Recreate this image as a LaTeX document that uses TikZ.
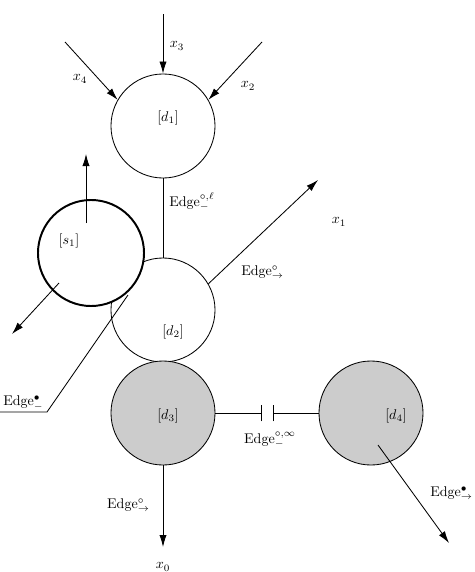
\documentclass[tikz,border=0pt]{standalone}
\usepackage{amsmath}
\usepackage{amssymb}
\usepackage{tikz}
\usetikzlibrary{arrows.meta}

\tikzset{
  dnode/.style={circle, draw, semithick, minimum size=2.6cm, inner sep=0pt},
  snode/.style={circle, draw, line width=1.4pt, fill=white, minimum size=2.65cm, inner sep=0pt},
  dfill/.style={dnode, fill=gray!40},
  arr/.style={semithick, -{Latex[length=3mm,width=1.8mm]}},
}

\begin{document}
\begin{tikzpicture}[x=0.025cm, y=-0.025cm]
                \useasboundingbox (0,0) rectangle (474,572);

                \node[dnode] (d1) at (163,126) {};
                \node[dnode] (d2) at (163,310) {};
                \node[dfill] (d3) at (163,413) {};
                \node[dfill] (d4) at (371,413) {};

                \coordinate (x3s) at (163,14);
                \coordinate (x4s) at (65,42);
                \coordinate (x2s) at (262,42);
                \coordinate (x1t) at (318,180);
                \coordinate (x0t) at (163,547);
                \coordinate (e1) at (0,412);
                \coordinate (e2) at (47,412);
                \coordinate (e3) at (128,295);
                \coordinate (c1) at (261,413);
                \coordinate (c2) at (273,413);

                % incoming edges of d1
                \draw[arr] (x3s) -- (d1);
                \draw[arr] (x4s) -- (d1.150);
                \draw[arr] (x2s) -- (d1.30);
                \draw[semithick] (d1) -- (d2);
                \draw[arr] (d2.30) -- (x1t);

                % Edge bullet, behind s1
                \draw[semithick] (e1) -- (e2) -- (e3);
                \node[snode] (s1) at (91,253) {};
                \coordinate (s1a) at (86,223);
                \coordinate (s1b) at (86,154);
                \coordinate (s1c) at (59,283);
                \coordinate (s1d) at (12,334);
                \draw[arr] (s1a) -- (s1b);
                \draw[arr] (s1c) -- (s1d);

                \draw[arr] (d3) -- (x0t);
                % capacitor between d3 and d4
                \draw[semithick] (d3) -- (c1);
                \draw[semithick] (c2) -- (d4);
                \draw[semithick] ([yshift=-6]c1) -- ([yshift=6]c1);
                \draw[semithick] ([yshift=-6]c2) -- ([yshift=6]c2);
                \coordinate (d4a) at (378,445);
                \coordinate (d4b) at (449,543);
                \draw[arr] (d4a) -- (d4b);

                \node (ld1) at (168,118) {$[d_1]$};
                \node (ls1) at (69,241) {$[s_1]$};
                \node (ld2) at (173,332) {$[d_2]$};
                \node (ld3) at (168,416) {$[d_3]$};
                \node (ld4) at (396,416) {$[d_4]$};
                \node (lx3) at (177,46) {$x_3$};
                \node (lx4) at (80,79) {$x_4$};
                \node (lx2) at (248,86) {$x_2$};
                \node (lx1) at (339,222) {$x_1$};
                \node (lx0) at (163,567) {$x_0$};
                \node[anchor=west, inner sep=0pt] (le1) at (169,202) {Edge$^{\circ,\ell}_{-}$};
                \node[anchor=west, inner sep=0pt] (le2) at (241,272) {Edge$^{\circ}_{\to}$};
                \node[anchor=west, inner sep=0pt] (le3) at (3,403) {Edge$^{\bullet}_{-}$};
                \node[anchor=east, inner sep=0pt] (le4) at (150,505) {Edge$^{\circ}_{\to}$};
                \node (le5) at (270,440) {Edge$^{\circ,\infty}_{-}$};
                \node[anchor=west, inner sep=0pt] (le6) at (430,493) {Edge$^{\bullet}_{\to}$};
            \end{tikzpicture}
\end{document}
